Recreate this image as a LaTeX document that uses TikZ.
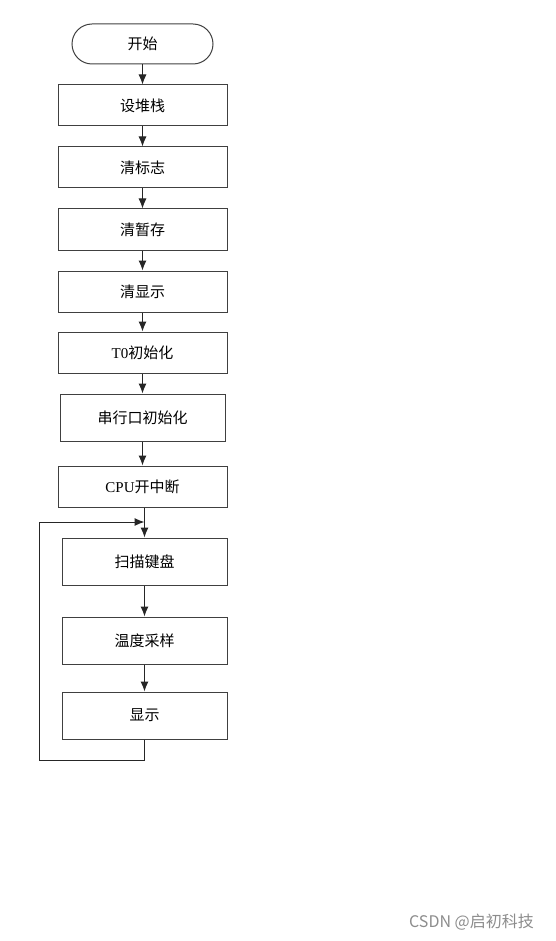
\documentclass[tikz,border=0pt]{standalone}
\usepackage{fontspec}
\setmainfont{Liberation Serif}
\newfontfamily\cjk{Noto Sans CJK SC}
\usetikzlibrary{arrows.meta}

\tikzset{
  box/.style={draw=black!75, line width=1pt, minimum height=41pt, minimum width=169pt,
    inner sep=0pt, font=\fontsize{15}{18}\selectfont},
  bigbox/.style={box, minimum height=47pt, minimum width=165pt},
  term/.style={box, rounded corners=20pt, minimum width=141pt, minimum height=40pt},
  flow/.style={draw=black!85, line width=1pt, -{Latex[length=10pt,width=8pt]}}
}

\begin{document}
\begin{tikzpicture}[x=1pt, y=-1pt]
        \useasboundingbox (0, 0) rectangle (555, 941);

        \node[term] (start) at (142.5, 44) {\cjk 开始};
        \node[box] (stack) at (142.5, 105.5) {\cjk 设堆栈};
        \node[box] (flag) at (142.5, 167.5) {\cjk 清标志};
        \node[box] (temp) at (142.5, 229.5) {\cjk 清暂存};
        \node[box] (clr) at (142.5, 291.5) {\cjk 清显示};
        \node[box] (tzero) at (142.5, 352.5) {T0{\cjk 初始化}};
        \node[box, minimum height=47pt, minimum width=165pt] (uart) at (142.5, 417.5) {\cjk 串行口初始化};
        \node[box] (cpu) at (142.5, 486.5) {CPU{\cjk 开中断}};
        \node[bigbox] (scan) at (144.5, 561.5) {\cjk 扫描键盘};
        \node[bigbox] (sample) at (144.5, 640.5) {\cjk 温度采样};
        \node[bigbox] (show) at (144.5, 715.5) {\cjk 显示};

        \coordinate (split) at (144.5, 522);
        \coordinate (low) at (144.5, 760);
        \coordinate (left) at (39, 760);
        \coordinate (up) at (39, 522);

        \draw[flow] (start) -- (stack);
        \draw[flow] (stack) -- (flag);
        \draw[flow] (flag) -- (temp);
        \draw[flow] (temp) -- (clr);
        \draw[flow] (clr) -- (tzero);
        \draw[flow] (tzero) -- (uart);
        \draw[flow] (uart) -- (cpu);
        \draw[flow] (cpu.south -| scan) -- (scan);
        \draw[flow] (scan) -- (sample);
        \draw[flow] (sample) -- (show);
        \draw[flow] (show) -- (low) -- (left) -- (up) -- (split);

        \node[text=black!45, font=\fontsize{16}{18}\selectfont\cjk] (mark) at (471.5, 922) {CSDN @启初科技};
      \end{tikzpicture}
\end{document}
